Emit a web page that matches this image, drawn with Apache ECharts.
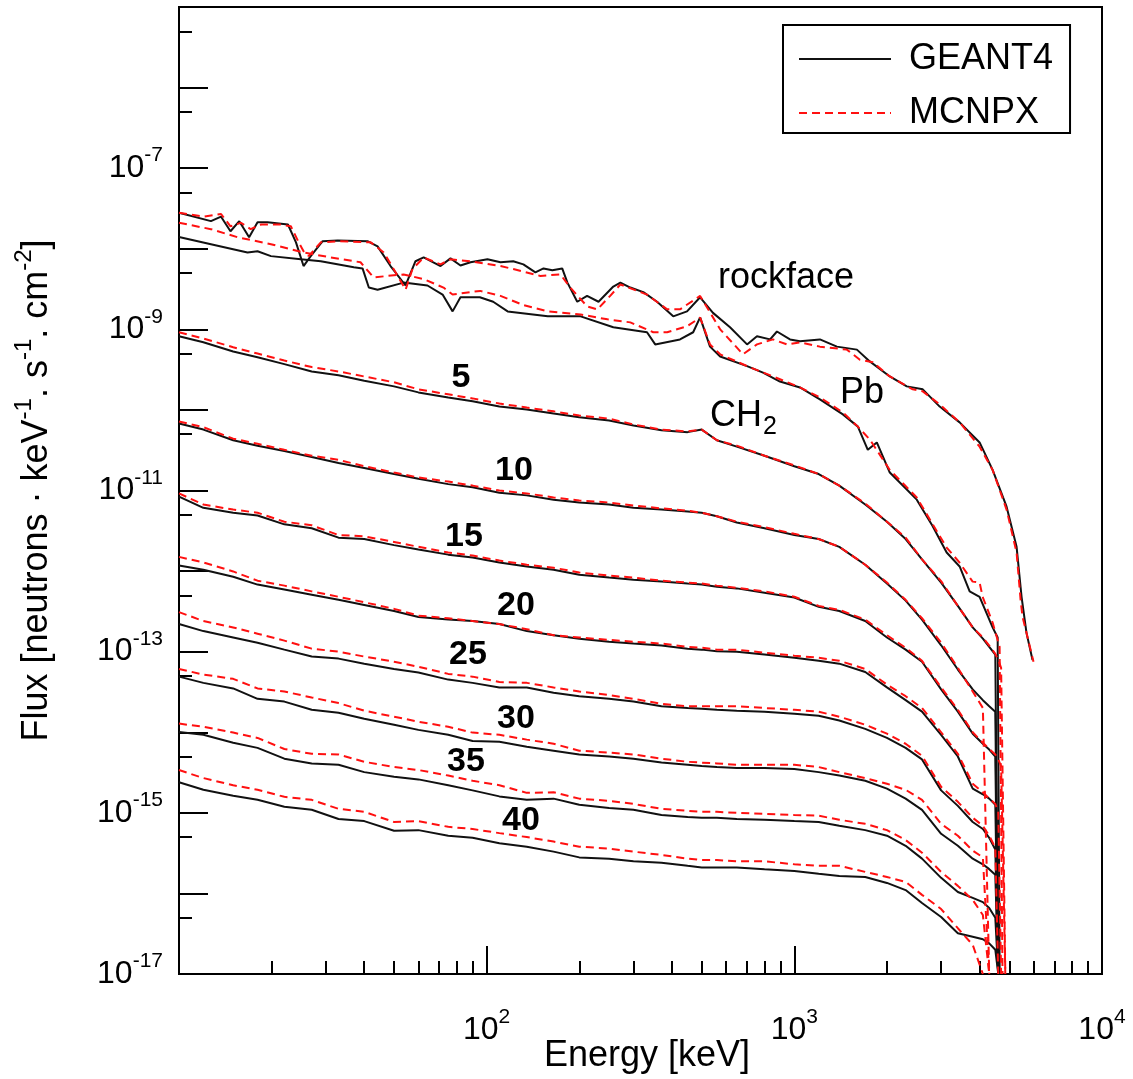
<!DOCTYPE html>
<html><head><meta charset="utf-8">
<script src="https://cdn.jsdelivr.net/npm/echarts@6/dist/echarts.min.js"></script>
<style>html,body{margin:0;padding:0;background:#fff}#c{width:1133px;height:1079px}</style>
</head><body><div id="c"></div>
<script>
const FONT = "'Liberation Sans', Arial, Helvetica, sans-serif";

// ---------- tick / label values ----------
const xMajorTicks = [100, 1000];
const xMinorTicks = [20,30,40,50,60,70,80,90,200,300,400,500,600,700,800,900,2000,3000,4000,5000,6000,7000,8000,9000];
const xLabelValues = [100, 1000, 10000];
const yMajorTicks = [1e-16,1e-15,1e-14,1e-13,1e-12,1e-11,1e-10,1e-9,1e-8,1e-7,1e-6];
const yMinorTicks = [5e-17,5e-16,5e-15,5e-14,5e-13,5e-12,5e-11,5e-10,5e-9,5e-8,5e-7,5e-6];
const yLabelValues = [1e-17,1e-15,1e-13,1e-11,1e-9,1e-7];

// ---------- rockface & Pb spectra: [energy keV, flux] ----------
const rockfaceG4 = [[10,2.8e-8],[12.7,2.2e-8],[13.7,2.5e-8],[14.7,1.65e-8],[15.7,2.2e-8],[16.9,1.39e-8],[18.0,2.13e-8],[19.4,2.13e-8],[22.6,2.0e-8],[24.0,1.2e-8],[25.4,6.1e-9],[26.8,8.1e-9],[29.3,1.24e-8],[32.8,1.27e-8],[41.0,1.24e-8],[44.2,1.07e-8],[48.7,6.1e-9],[54.5,3.5e-9],[58.7,7.0e-9],[62.4,7.8e-9],[70.8,6.1e-9],[76.3,7.6e-9],[82.2,6.2e-9],[88.6,6.8e-9],[100.6,7.4e-9],[110.9,6.8e-9],[122,7.0e-9],[131.6,6.4e-9],[144,5.1e-9],[153,5.7e-9],[163.5,5.4e-9],[176,5.7e-9],[183,3.8e-9],[197,2.2e-9],[212,2.6e-9],[231,2.2e-9],[258,3.4e-9],[272,3.8e-9],[293,3.3e-9],[323,2.9e-9],[358,2.2e-9],[404,1.45e-9],[448,1.67e-9],[494,2.5e-9],[544,1.6e-9],[618,1.06e-9],[702,6.5e-10],[756,8.2e-10],[834,7.5e-10],[878,9.4e-10],[968,7.5e-10],[1043,7.1e-10],[1211,7.5e-10],[1375,6.1e-10],[1597,5.6e-10],[1759,4.0e-10],[2043,2.6e-10],[2320,1.96e-10],[2615,1.8e-10],[2968,1.1e-10],[3446,7.0e-11],[4001,3.95e-11],[4410,1.8e-11],[4896,6.3e-12],[5277,2.0e-12],[5477,4.8e-13],[5685,1.7e-13],[5946,7.9e-14]];
const rockfaceMC = [[10,2.8e-8],[12.05,2.5e-8],[13.7,2.7e-8],[14.7,1.9e-8],[15.9,2.1e-8],[17.1,1.75e-8],[18.5,2.0e-8],[21.4,2.0e-8],[23.1,1.9e-8],[24.5,1.2e-8],[25.4,9.3e-9],[26.4,8.1e-9],[28.9,1.2e-8],[32.8,1.24e-8],[42.0,1.2e-8],[46.3,9.0e-9],[51.4,4.6e-9],[54.5,3.1e-9],[57.4,5.6e-9],[62.4,7.8e-9],[70.8,6.4e-9],[76.3,7.4e-9],[88.6,7.0e-9],[110.9,6.1e-9],[122,5.6e-9],[149.5,4.6e-9],[173.6,4.8e-9],[187,3.3e-9],[212,1.93e-9],[229,1.77e-9],[252,2.6e-9],[272,3.6e-9],[332,2.7e-9],[386,1.77e-9],[425,1.77e-9],[494,2.6e-9],[574,1.0e-9],[681,4.9e-10],[756,6.5e-10],[852,7.5e-10],[946,6.5e-10],[1043,6.9e-10],[1211,6.1e-10],[1482,5.6e-10],[1633,4.2e-10],[1799,3.9e-10],[2043,2.6e-10],[2426,1.8e-10],[2615,1.7e-10],[2968,1.17e-10],[3446,7.0e-11],[4001,3.5e-11],[4410,1.8e-11],[4896,5.8e-12],[5277,1.7e-12],[5437,4.4e-13],[5518,2.7e-13],[5685,1.7e-13],[5989,7.5e-14]];
const pbG4 = [[10,1.4e-8],[12.7,1.14e-8],[16.7,9.0e-9],[18.0,9.3e-9],[19.9,8.1e-9],[24.9,7.4e-9],[28.9,7.0e-9],[37.0,5.9e-9],[39.5,5.7e-9],[41.4,3.3e-9],[44.2,3.1e-9],[53.7,3.8e-9],[64.2,3.5e-9],[71.9,2.7e-9],[77.5,1.67e-9],[82.2,2.5e-9],[95,2.5e-9],[105,2.2e-9],[117,1.67e-9],[158,1.45e-9],[202,1.45e-9],[258,1.06e-9],[332,9.2e-10],[353,6.5e-10],[425,7.5e-10],[469,9.2e-10],[494,1.41e-9],[532,6.1e-10],[574,4.6e-10],[702,3.5e-10],[791,2.9e-10],[898,2.25e-10],[1043,1.9e-10],[1211,1.35e-10],[1438,8.8e-11],[1609,6.2e-11],[1733,3.2e-11],[1854,3.95e-11],[2043,1.67e-11],[2320,1.03e-11],[2500,7.7e-12],[2817,3.6e-12],[3127,1.7e-12],[3446,1.14e-12],[3714,5.6e-13],[4001,4.8e-13],[4410,2.0e-13],[4580,1.5e-13],[4650,1e-17]];
const pbMC = [[10,2.1e-8],[12.7,1.75e-8],[15.5,1.39e-8],[19.9,1.14e-8],[25.4,9.0e-9],[31.1,7.8e-9],[38.9,6.8e-9],[42.9,4.4e-9],[47.6,4.6e-9],[53.7,4.8e-9],[62.4,4.2e-9],[72.4,3.3e-9],[77.5,2.7e-9],[88.6,2.9e-9],[95.3,3.0e-9],[110.9,2.6e-9],[131.6,2.0e-9],[158,1.67e-9],[202,1.53e-9],[247,1.33e-9],[293,1.22e-9],[348,9.2e-10],[386,9.2e-10],[448,1.09e-9],[494,1.4e-9],[532,6.5e-10],[574,4.9e-10],[702,3.5e-10],[898,2.4e-10],[1043,1.9e-10],[1211,1.43e-10],[1438,9.3e-11],[1609,6.2e-11],[1759,4.3e-11],[2043,1.8e-11],[2500,8.2e-12],[2817,3.8e-12],[3127,1.96e-12],[3446,1.27e-12],[3798,7.4e-13],[4001,7.2e-13],[4093,4.8e-13],[4410,2.3e-13],[4647,1.15e-13],[4750,1e-17]];

// ---------- CH2 spectra on a shared energy grid (keV) ----------
const energy = [10,12,15,18,22,27,33,40,50,60,75,90,110,135,165,200,250,300,370,450,500,560,650,800,1000,1200,1400,1700,2000,2300,2600,3000,3400,3800,4100,4300,4500,4600,4700,4850];
const ch2Thickness = ['5','10','15','20','25','30','35','40'];
const ch2_5_G4  = [8.2e-10,6.9e-10,5.3e-10,4.5e-10,3.7e-10,3.0e-10,2.7e-10,2.3e-10,1.96e-10,1.65e-10,1.43e-10,1.28e-10,1.1e-10,1.01e-10,9.0e-11,8.1e-11,7.4e-11,6.4e-11,5.6e-11,5.3e-11,5.7e-11,4.2e-11,3.5e-11,2.7e-11,2.0e-11,1.6e-11,1.15e-11,6.7e-12,4.1e-12,2.5e-12,1.4e-12,7.2e-13,3.7e-13,2.0e-13,1.45e-13,1.15e-13,9.2e-14,1e-17,null,null];
const ch2_5_MC  = [9.2e-10,7.7e-10,6.0e-10,5.0e-10,4.1e-10,3.4e-10,3.0e-10,2.6e-10,2.2e-10,1.8e-10,1.56e-10,1.39e-10,1.2e-10,1.07e-10,9.6e-11,8.5e-11,7.8e-11,6.6e-11,5.7e-11,5.4e-11,5.7e-11,4.2e-11,3.6e-11,2.7e-11,2.05e-11,1.6e-11,1.15e-11,6.9e-12,4.1e-12,2.6e-12,1.4e-12,7.5e-13,3.7e-13,2.0e-13,1.5e-13,1.19e-13,9.4e-14,7.9e-14,6.3e-14,1e-17];
const ch2_10_G4 = [6.8e-11,5.7e-11,4.2e-11,3.6e-11,3.1e-11,2.6e-11,2.2e-11,1.9e-11,1.6e-11,1.4e-11,1.2e-11,1.1e-11,9.4e-12,8.7e-12,7.7e-12,7.1e-12,6.7e-12,6.1e-12,5.8e-12,5.5e-12,5.3e-12,4.8e-12,4.0e-12,3.4e-12,2.8e-12,2.5e-12,2.0e-12,1.2e-12,7.0e-13,4.3e-13,2.5e-13,1.2e-13,6.0e-14,3.4e-14,2.5e-14,2.1e-14,1.8e-14,1e-17,null,null];
const ch2_10_MC = [7.2e-11,6.1e-11,4.4e-11,3.8e-11,3.2e-11,2.7e-11,2.4e-11,2.0e-11,1.67e-11,1.45e-11,1.29e-11,1.15e-11,1.0e-11,9.2e-12,8.2e-12,7.5e-12,7.1e-12,6.5e-12,6.0e-12,5.6e-12,5.3e-12,4.8e-12,4.1e-12,3.5e-12,2.9e-12,2.5e-12,2.0e-12,1.2e-12,7.2e-13,4.4e-13,2.6e-13,1.29e-13,6.3e-14,3.2e-14,2.0e-14,1e-17,null,null,null,null];
const ch2_15_G4 = [8.4e-12,6.1e-12,5.3e-12,4.9e-12,3.8e-12,3.4e-12,2.6e-12,2.5e-12,2.1e-12,1.85e-12,1.6e-12,1.47e-12,1.28e-12,1.14e-12,1.04e-12,9.0e-13,8.3e-13,7.8e-13,7.4e-13,7.0e-13,6.8e-13,6.4e-13,6.1e-13,5.4e-13,4.7e-13,3.6e-13,3.2e-13,2.4e-13,1.5e-13,1.06e-13,7.5e-14,3.4e-14,1.8e-14,9.6e-15,7.2e-15,6.1e-15,5.0e-15,1e-17,null,null];
const ch2_15_MC = [9.2e-12,6.7e-12,5.8e-12,5.3e-12,4.1e-12,3.7e-12,2.8e-12,2.7e-12,2.3e-12,2.0e-12,1.7e-12,1.56e-12,1.35e-12,1.2e-12,1.1e-12,9.6e-13,8.8e-13,8.3e-13,7.6e-13,7.2e-13,7.0e-13,6.6e-13,6.2e-13,5.6e-13,4.8e-13,3.7e-13,3.3e-13,2.5e-13,1.6e-13,1.12e-13,7.7e-14,3.6e-14,1.9e-14,1.0e-14,7.4e-15,6.2e-15,5.3e-15,4.6e-15,3.8e-15,1e-17];
const ch2_20_G4 = [1.17e-12,1.04e-12,8.5e-13,6.8e-13,5.9e-13,5.1e-13,4.4e-13,3.8e-13,3.2e-13,2.7e-13,2.5e-13,2.4e-13,2.2e-13,1.8e-13,1.6e-13,1.45e-13,1.33e-13,1.26e-13,1.19e-13,1.09e-13,1.06e-13,1.01e-13,1.0e-13,9.2e-14,8.4e-14,7.7e-14,7.1e-14,5.6e-14,3.6e-14,2.5e-14,1.8e-14,9.3e-15,5.0e-15,2.0e-15,1.7e-15,1.5e-15,1.26e-15,1e-17,null,null];
const ch2_20_MC = [1.5e-12,1.28e-12,9.9e-13,7.6e-13,6.6e-13,5.6e-13,4.8e-13,4.1e-13,3.4e-13,2.8e-13,2.6e-13,2.4e-13,2.2e-13,1.9e-13,1.6e-13,1.5e-13,1.4e-13,1.33e-13,1.26e-13,1.15e-13,1.12e-13,1.06e-13,1.06e-13,9.7e-14,8.9e-14,8.4e-14,7.7e-14,6.1e-14,3.9e-14,2.8e-14,2.0e-14,1.0e-14,5.4e-15,2.3e-15,1.8e-15,1.5e-15,1.29e-15,1.03e-15,1e-17,null];
const ch2_25_G4 = [2.2e-13,1.8e-13,1.5e-13,1.29e-13,1.06e-13,8.7e-14,8.2e-14,7.1e-14,6.1e-14,5.5e-14,4.5e-14,4.1e-14,3.6e-14,3.6e-14,3.1e-14,2.8e-14,2.6e-14,2.4e-14,2.1e-14,2.0e-14,1.96e-14,1.9e-14,1.85e-14,1.8e-14,1.7e-14,1.6e-14,1.4e-14,1.1e-14,8.5e-15,6.4e-15,4.6e-15,1.9e-15,1.22e-15,7.7e-16,6.3e-16,4.9e-16,3.5e-16,1e-17,null,null];
const ch2_25_MC = [3.1e-13,2.4e-13,2.0e-13,1.67e-13,1.37e-13,1.09e-13,1.0e-13,8.7e-14,7.5e-14,6.5e-14,5.3e-14,4.9e-14,4.2e-14,4.1e-14,3.6e-14,3.2e-14,2.9e-14,2.6e-14,2.25e-14,2.1e-14,2.1e-14,2.1e-14,2.1e-14,2.0e-14,1.9e-14,1.8e-14,1.56e-14,1.24e-14,9.6e-15,7.2e-15,5.1e-15,2.1e-15,1.37e-15,8.7e-16,6.9e-16,5.2e-16,3.7e-16,1e-17,null,null];
const ch2_30_G4 = [4.9e-14,4.1e-14,3.5e-14,2.6e-14,2.4e-14,1.9e-14,1.75e-14,1.47e-14,1.24e-14,1.07e-14,9.3e-15,7.8e-15,7.6e-15,6.6e-15,5.9e-15,5.3e-15,5.0e-15,4.7e-15,4.2e-15,3.95e-15,3.8e-15,3.7e-15,3.6e-15,3.6e-15,3.5e-15,3.2e-15,2.9e-15,2.5e-15,2.0e-15,1.5e-15,1.09e-15,5.5e-16,3.9e-16,2.7e-16,2.3e-16,2.0e-16,1.7e-16,1e-17,null,null];
const ch2_30_MC = [6.1e-14,5.2e-14,4.6e-14,3.5e-14,3.2e-14,2.7e-14,2.3e-14,1.85e-14,1.56e-14,1.35e-14,1.17e-14,9.9e-15,9.3e-15,8.1e-15,7.2e-15,5.9e-15,5.6e-15,5.3e-15,4.7e-15,4.3e-15,4.2e-15,4.1e-15,3.95e-15,3.95e-15,3.95e-15,3.7e-15,3.2e-15,2.7e-15,2.3e-15,1.93e-15,1.45e-15,7.3e-16,5.2e-16,3.4e-16,2.8e-16,1e-17,null,null,null,null];
const ch2_35_G4 = [1.01e-14,9.3e-15,7.4e-15,6.4e-15,4.7e-15,4.1e-15,3.95e-15,3.2e-15,2.8e-15,2.6e-15,2.2e-15,1.9e-15,1.6e-15,1.45e-15,1.5e-15,1.26e-15,1.15e-15,1.09e-15,9.4e-16,8.9e-16,8.7e-16,8.7e-16,8.4e-16,8.2e-16,7.9e-16,7.7e-16,6.9e-16,6.1e-16,5.2e-16,3.9e-16,2.7e-16,1.56e-16,1.04e-16,8.8e-17,7.8e-17,6.6e-17,5.0e-17,1e-17,null,null];
const ch2_35_MC = [1.28e-14,1.17e-14,9.9e-15,8.5e-15,6.2e-15,5.4e-15,5.3e-15,4.3e-15,3.7e-15,3.4e-15,2.9e-15,2.5e-15,2.2e-15,1.77e-15,1.8e-15,1.5e-15,1.41e-15,1.29e-15,1.12e-15,1.06e-15,1.03e-15,1.03e-15,1.0e-15,9.7e-16,9.4e-16,9.2e-16,8.2e-16,7.3e-16,6.1e-16,4.6e-16,3.2e-16,1.85e-16,1.24e-16,8.3e-17,5.4e-17,1e-17,null,null,null,null];
const ch2_40_G4 = [2.4e-15,1.93e-15,1.63e-15,1.45e-15,1.19e-15,1.09e-15,8.4e-16,7.9e-16,6.0e-16,6.1e-16,5.2e-16,4.9e-16,4.2e-16,3.8e-16,3.3e-16,2.8e-16,2.7e-16,2.5e-16,2.4e-16,2.2e-16,2.1e-16,2.1e-16,2.1e-16,2.0e-16,1.9e-16,1.75e-16,1.65e-16,1.6e-16,1.35e-16,1.1e-16,7.6e-17,5.1e-17,3.2e-17,2.9e-17,2.7e-17,2.4e-17,2.0e-17,1e-17,null,null];
const ch2_40_MC = [3.4e-15,2.7e-15,2.2e-15,1.93e-15,1.58e-15,1.45e-15,1.12e-15,1.03e-15,7.7e-16,7.9e-16,6.7e-16,6.3e-16,5.6e-16,5.0e-16,4.4e-16,3.8e-16,3.6e-16,3.3e-16,3.0e-16,2.7e-16,2.6e-16,2.6e-16,2.5e-16,2.5e-16,2.3e-16,2.2e-16,2.2e-16,1.85e-16,1.6e-16,1.39e-16,9.6e-17,6.4e-17,3.7e-17,2.3e-17,1e-17,null,null,null,null,null];

const ch2G4 = [ch2_5_G4, ch2_10_G4, ch2_15_G4, ch2_20_G4, ch2_25_G4, ch2_30_G4, ch2_35_G4, ch2_40_G4];
const ch2MC = [ch2_5_MC, ch2_10_MC, ch2_15_MC, ch2_20_MC, ch2_25_MC, ch2_30_MC, ch2_35_MC, ch2_40_MC];

// ---------- build ----------
function gridPairs(vals) {
  const out = [];
  vals.forEach((v, i) => { if (v != null) out.push([energy[i], v]); });
  return out;
}
const BLACK = '#111111', RED = '#ff1010';
function mkSeries(name, data, red) {
  return {
    name: name, type: 'line', data: data, symbol: 'none', showSymbol: false,
    xAxisIndex: 0, yAxisIndex: 0, clip: true, animation: false, silent: true,
    lineStyle: red ? { color: RED, width: 2, type: [8, 5] } : { color: BLACK, width: 2 },
    itemStyle: { color: red ? RED : BLACK },
    z: red ? 3 : 2
  };
}
const series = [];
series.push(mkSeries('GEANT4', rockfaceG4, false));
series.push(mkSeries('GEANT4', pbG4, false));
ch2G4.forEach(a => series.push(mkSeries('GEANT4', gridPairs(a), false)));
series.push(mkSeries('MCNPX', rockfaceMC, true));
series.push(mkSeries('MCNPX', pbMC, true));
ch2MC.forEach(a => series.push(mkSeries('MCNPX', gridPairs(a), true)));

function powLabel(v) {
  const e = Math.round(Math.log10(v));
  return '{b|10}{s|' + e + '}';
}
const tickRich = {
  b: { fontSize: 32, lineHeight: 46, fontFamily: FONT, color: '#000' },
  s: { fontSize: 21, lineHeight: 21, verticalAlign: 'top', fontFamily: FONT, color: '#000' }
};

const annotations = [
  { text: 'rockface', x: 786, y: 278, bold: false, size: 36 },
  { text: 'Pb', x: 862, y: 393, bold: false, size: 36 },
  { text: '5', x: 461, y: 378, bold: true, size: 34 },
  { text: '10', x: 514, y: 471, bold: true, size: 34 },
  { text: '15', x: 464, y: 537, bold: true, size: 34 },
  { text: '20', x: 516, y: 606, bold: true, size: 34 },
  { text: '25', x: 468, y: 655, bold: true, size: 34 },
  { text: '30', x: 516, y: 719, bold: true, size: 34 },
  { text: '35', x: 466, y: 762, bold: true, size: 34 },
  { text: '40', x: 521, y: 821, bold: true, size: 34 }
];
const graphic = annotations.map(a => ({
  type: 'text', x: a.x, y: a.y, silent: true,
  style: { text: a.text, fill: '#000', font: (a.bold ? 'bold ' : '') + a.size + 'px ' + FONT,
           textAlign: 'center', textVerticalAlign: 'middle', verticalAlign: 'middle' }
}));
graphic.push({ type: 'text', x: 710, y: 416, silent: true,
  style: { text: 'CH', fill: '#000', font: '36px ' + FONT, textAlign: 'left', textVerticalAlign: 'middle', verticalAlign: 'middle' } });
graphic.push({ type: 'text', x: 763, y: 427, silent: true,
  style: { text: '2', fill: '#000', font: '25px ' + FONT, textAlign: 'left', textVerticalAlign: 'middle', verticalAlign: 'middle' } });

const option = {
  animation: false,
  backgroundColor: '#ffffff',
  textStyle: { fontFamily: FONT },
  grid: { left: 179, top: 7, width: 923, height: 967, show: true, borderColor: '#000', borderWidth: 2,
          backgroundColor: 'transparent', containLabel: false, outerBoundsMode: 'none' },
  legend: {
    data: ['GEANT4', 'MCNPX'], orient: 'vertical', left: 783, top: 25,
    padding: [16, 17, 2, 15], itemGap: 18, itemWidth: 92, itemHeight: 36,
    borderColor: '#000', borderWidth: 2, backgroundColor: '#fff', selectedMode: false,
    itemStyle: { opacity: 0, borderWidth: 0 },
    textStyle: { fontSize: 36, color: '#000', fontFamily: FONT, padding: [0, 0, 0, 13] }
  },
  xAxis: [
    { type: 'log', logBase: 10, min: 10, max: 10000, position: 'bottom', gridIndex: 0,
      axisLine: { show: false }, splitLine: { show: false }, minorTick: { show: false },
      axisTick: { show: true, inside: true, length: 28, customValues: xMajorTicks, lineStyle: { color: '#000', width: 2 } },
      axisLabel: { show: true, customValues: xLabelValues, formatter: powLabel, margin: 33, rich: tickRich },
      name: 'Energy [keV]', nameLocation: 'middle', nameGap: 64, nameMoveOverlap: false,
      nameTextStyle: { fontSize: 36, color: '#000', fontFamily: FONT, padding: [0, 0, 0, 13] } },
    { type: 'log', logBase: 10, min: 10, max: 10000, position: 'bottom', gridIndex: 0,
      axisLine: { show: false }, splitLine: { show: false }, axisLabel: { show: false },
      axisTick: { show: true, inside: true, length: 13, customValues: xMinorTicks, lineStyle: { color: '#000', width: 2 } } }
  ],
  yAxis: [
    { type: 'log', logBase: 10, min: 1e-17, max: 1e-5, position: 'left', gridIndex: 0,
      axisLine: { show: false }, splitLine: { show: false }, minorTick: { show: false },
      axisTick: { show: true, inside: true, length: 29, customValues: yMajorTicks, lineStyle: { color: '#000', width: 2 } },
      axisLabel: { show: true, customValues: yLabelValues, formatter: powLabel, margin: 16, rich: tickRich },
      name: 'Flux [neutrons \u00b7 keV{s|-1}. s{s|-1}. cm{s|-2}]', nameLocation: 'middle', nameRotate: 90, nameGap: 117, nameMoveOverlap: false,
      nameTextStyle: { fontSize: 36, lineHeight: 50, color: '#000', fontFamily: FONT,
        rich: { s: { fontSize: 24, lineHeight: 24, verticalAlign: 'top', fontFamily: FONT, color: '#000' } } } },
    { type: 'log', logBase: 10, min: 1e-17, max: 1e-5, position: 'left', gridIndex: 0,
      axisLine: { show: false }, splitLine: { show: false }, axisLabel: { show: false },
      axisTick: { show: true, inside: true, length: 13, customValues: yMinorTicks, lineStyle: { color: '#000', width: 2 } } }
  ],
  series: series,
  graphic: graphic
};
const chart = echarts.init(document.getElementById('c'), null, { renderer: 'canvas', width: 1133, height: 1079 });
chart.setOption(option);
</script>
</body></html>
